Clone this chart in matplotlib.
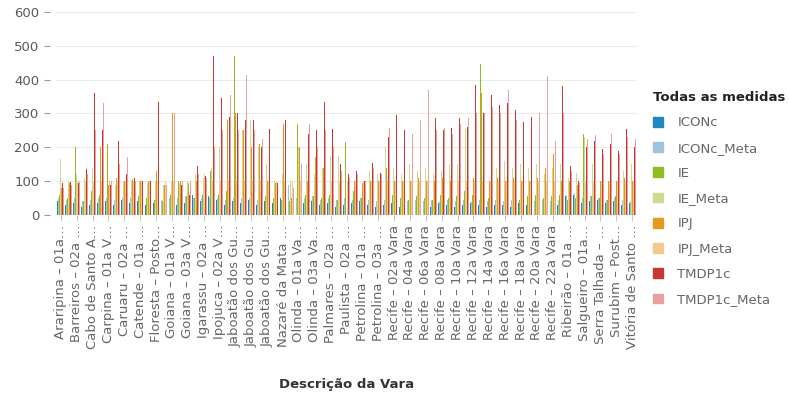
import numpy as np
import matplotlib
matplotlib.use("Agg")
import matplotlib.pyplot as plt
from matplotlib.patches import Patch

plt.rcParams['font.family'] = ['DejaVu Sans']

# varas (73 categorias, rótulo exibido só nas pares)
varas = [
    "Araripina – 01a Vara", "Arcoverde – 01a Vara", "Barreiros – 02a Vara", "Belo Jardim – 01a Vara",
    "Cabo de Santo Agostinho – 01a Vara", "Cabo de Santo Agostinho – 02a Vara", "Carpina – 01a Vara",
    "Carpina – 02a Vara", "Caruaru – 02a Vara", "Caruaru – 03a Vara", "Catende – 01a Vara",
    "Escada – 01a Vara", "Floresta – Posto Avançado", "Garanhuns – 01a Vara", "Goiana – 01a Vara",
    "Goiana – 02a Vara", "Goiana – 03a Vara", "Igarassu – 01a Vara", "Igarassu – 02a Vara",
    "Ipojuca – 01a Vara", "Ipojuca – 02a Vara", "Jaboatão dos Guararapes – 01a Vara",
    "Jaboatão dos Guararapes – 02a Vara", "Jaboatão dos Guararapes – 03a Vara",
    "Jaboatão dos Guararapes – 04a Vara", "Jaboatão dos Guararapes – 05a Vara",
    "Jaboatão dos Guararapes – 06a Vara", "Limoeiro – 01a Vara", "Nazaré da Mata – 01a Vara",
    "Nazaré da Mata – 02a Vara", "Olinda – 01a Vara", "Olinda – 02a Vara", "Olinda – 03a Vara",
    "Palmares – 01a Vara", "Palmares – 02a Vara", "Paulista – 01a Vara", "Paulista – 02a Vara",
    "Pesqueira – 01a Vara", "Petrolina – 01a Vara", "Petrolina – 02a Vara", "Petrolina – 03a Vara",
    "Recife – 01a Vara", "Recife – 02a Vara", "Recife – 03a Vara", "Recife – 04a Vara",
    "Recife – 05a Vara", "Recife – 06a Vara", "Recife – 07a Vara", "Recife – 08a Vara",
    "Recife – 09a Vara", "Recife – 10a Vara", "Recife – 11a Vara", "Recife – 12a Vara",
    "Recife – 13a Vara", "Recife – 14a Vara", "Recife – 15a Vara", "Recife – 16a Vara",
    "Recife – 17a Vara", "Recife – 18a Vara", "Recife – 19a Vara", "Recife – 20a Vara",
    "Recife – 21a Vara", "Recife – 22a Vara", "Recife – 23a Vara", "Ribeirão – 01a Vara",
    "Ribeirão – 02a Vara", "Salgueiro – 01a Vara", "São Lourenço da Mata – 01a Vara",
    "Serra Talhada – 01a Vara", "Sertânia – 01a Vara", "Surubim – Posto Avançado",
    "Timbaúba – 01a Vara", "Vitória de Santo Antão – 01a Vara",
]

rotulos = [
    "Araripina – 01a…", "Barreiros – 02a …", "Cabo de Santo A…", "Carpina – 01a V…",
    "Caruaru – 02a …", "Catende – 01a …", "Floresta – Posto…", "Goiana – 01a V…",
    "Goiana – 03a V…", "Igarassu – 02a …", "Ipojuca – 02a V…", "Jaboatão dos Gu…",
    "Jaboatão dos Gu…", "Jaboatão dos Gu…", "Nazaré da Mata …", "Olinda – 01a Va…",
    "Olinda – 03a Va…", "Palmares – 02a …", "Paulista – 02a …", "Petrolina – 01a …",
    "Petrolina – 03a …", "Recife – 02a Vara", "Recife – 04a Vara", "Recife – 06a Vara",
    "Recife – 08a Vara", "Recife – 10a Vara", "Recife – 12a Vara", "Recife – 14a Vara",
    "Recife – 16a Vara", "Recife – 18a Vara", "Recife – 20a Vara", "Recife – 22a Vara",
    "Ribeirão – 01a …", "Salgueiro – 01a…", "Serra Talhada – …", "Surubim – Post…",
    "Vitória de Santo …",
]

iconc = [40, 30, 35, 25, 30, 35, 40, 30, 45, 35,
         40, 30, 35, 20, 40, 30, 35, 60, 40, 55,
         45, 30, 40, 35, 45, 30, 40, 35, 50, 30,
         45, 35, 40, 30, 35, 25, 30, 35, 40, 30,
         25, 30, 35, 25, 30, 35, 30, 25, 35, 30,
         25, 30, 35, 30, 25, 30, 30, 25, 35, 30,
         25, 30, 35, 30, 55, 60, 35, 40, 45, 35,
         40, 30, 35]
iconc_meta = [50, 45, 50, 40, 45, 50, 50, 45, 50, 50,
              55, 50, 50, 45, 50, 50, 55, 50, 50, 50,
              50, 45, 50, 50, 50, 45, 50, 50, 55, 90,
              50, 50, 55, 45, 50, 45, 50, 45, 50, 45,
              40, 45, 40, 45, 40, 45, 40, 45, 40, 45,
              40, 45, 40, 45, 40, 45, 40, 45, 40, 45,
              40, 45, 40, 45, 60, 65, 50, 55, 50, 45,
              50, 45, 40]
ie = [60, 50, 202, 40, 70, 60, 210, 50, 60, 45,
      55, 50, 45, 40, 60, 100, 55, 50, 60, 130,
      60, 70, 470, 50, 470, 60, 55, 50, 45, 40,
      270, 60, 55, 50, 60, 45, 215, 70, 50, 45,
      55, 200, 60, 50, 45, 55, 50, 45, 60, 50,
      55, 70, 60, 445, 50, 55, 60, 50, 45, 55,
      60, 50, 55, 60, 45, 50, 240, 55, 50, 45,
      55, 50, 45]
ie_meta = [165, 100, 120, 110, 140, 210, 150, 90, 100, 100,
           100, 95, 100, 90, 100, 95, 100, 120, 110, 140,
           200, 250, 300, 250, 280, 200, 150, 100, 120, 100,
           200, 150, 120, 140, 175, 175, 130, 120, 100, 130,
           120, 200, 140, 120, 150, 130, 140, 120, 130, 150,
           150, 255, 160, 300, 150, 140, 160, 140, 150, 140,
           150, 120, 140, 150, 110, 125, 230, 150, 140, 150,
           140, 130, 150]
ipj = [80, 95, 100, 130, 250, 200, 90, 110, 100, 105,
       100, 100, 130, 90, 300, 100, 95, 100, 110, 200,
       250, 280, 300, 250, 200, 210, 100, 95, 270, 50,
       200, 100, 170, 140, 110, 170, 120, 100, 95, 100,
       100, 140, 100, 100, 100, 110, 100, 100, 110, 100,
       100, 120, 110, 360, 100, 110, 100, 110, 100, 100,
       110, 140, 180, 100, 100, 90, 110, 100, 100, 100,
       100, 110, 100]
ipj_meta = [100, 100, 100, 100, 100, 100, 100, 100, 100, 100,
            100, 100, 100, 100, 100, 100, 100, 100, 120, 100,
            100, 100, 100, 100, 100, 100, 100, 100, 100, 100,
            100, 100, 100, 100, 100, 100, 100, 100, 100, 100,
            100, 100, 100, 100, 100, 100, 100, 100, 100, 100,
            100, 100, 100, 100, 100, 100, 100, 100, 100, 100,
            100, 100, 100, 100, 100, 100, 100, 100, 100, 100,
            100, 100, 100]
tmdp1c = [95, 98, 95, 135, 360, 250, 90, 220, 120, 110,
          100, 100, 335, 95, 335, 90, 60, 145, 115, 470,
          345, 290, 300, 280, 280, 200, 255, 95, 280, 85,
          195, 240, 250, 335, 255, 150, 120, 130, 100, 155,
          125, 230, 296, 250, 257, 340, 330, 286, 250, 257,
          286, 260, 384, 300, 355, 326, 330, 310, 276, 290,
          345, 380, 235, 380, 145, 100, 200, 220, 195, 210,
          190, 255, 200]
tmdp1c_meta = [80, 90, 100, 120, 250, 330, 100, 150, 170, 100,
               140, 100, 120, 90, 300, 100, 100, 120, 110, 200,
               250, 355, 250, 415, 250, 225, 200, 100, 250, 80,
               150, 270, 200, 250, 200, 130, 110, 120, 100, 140,
               120, 257, 250, 286, 240, 280, 370, 250, 257, 240,
               270, 286, 300, 300, 320, 300, 370, 280, 260, 270,
               300, 410, 220, 300, 130, 95, 225, 235, 180, 240,
               180, 230, 225]

medidas = ["ICONc", "ICONc_Meta", "IE", "IE_Meta", "IPJ", "IPJ_Meta", "TMDP1c", "TMDP1c_Meta"]
series = [iconc, iconc_meta, ie, ie_meta, ipj, ipj_meta, tmdp1c, tmdp1c_meta]
cores = ["#1f86c2", "#9fc3dc", "#8dbd1e", "#cfd98f", "#e39a1e", "#f3c98e", "#c93832", "#e6a29f"]

fig = plt.figure(figsize=(7.89, 3.93), dpi=100)
ax = fig.add_axes([56 / 789, 1 - 215 / 393, 581 / 789, 203 / 393])

x = np.arange(len(varas))
w = 0.105
for k, (nome, vals, c) in enumerate(zip(medidas, series, cores)):
    ax.bar(x + (k - 3.5) * w, vals, width=w, color=c, label=nome, linewidth=0)

ax.set_xlim(-0.6, len(varas) - 0.4)
ax.set_ylim(0, 600)
ax.set_yticks(range(0, 601, 100))
ax.yaxis.grid(True, color="#ebebeb", linewidth=0.8)
ax.set_axisbelow(True)
for s in ax.spines.values():
    s.set_visible(False)
ax.spines["left"].set_position(("outward", 4))

ax.set_xticks(x[::2])
ax.set_xticklabels(rotulos, rotation=90, ha="center", va="top", fontsize=9.5, color="#666666")
ax.tick_params(axis="x", length=4, width=0.6, color="#bbbbbb", pad=3)
ax.tick_params(axis="y", length=4, width=0.8, color="#999999", pad=4, labelsize=9.5, labelcolor="#5a5a5a")

ax.set_xlabel("Descrição da Vara", fontsize=9.5, fontweight="bold", color="#333333", labelpad=21)

handles = [Patch(color=c) for c in cores]
leg = fig.legend(handles, medidas, loc="upper left", bbox_to_anchor=(653 / 789, 1 - 91 / 393),
                 frameon=False, fontsize=9.5, handlelength=0.75, handleheight=0.75,
                 handletextpad=1.1, labelspacing=0.93, borderpad=0, borderaxespad=0,
                 title="Todas as medidas",
                 title_fontproperties={"weight": "bold", "size": 9.5})
leg._legend_box.align = "left"
for t in leg.get_texts():
    t.set_color("#666666")
leg.get_title().set_color("#222222")

fig.savefig("out.png", dpi=100)
